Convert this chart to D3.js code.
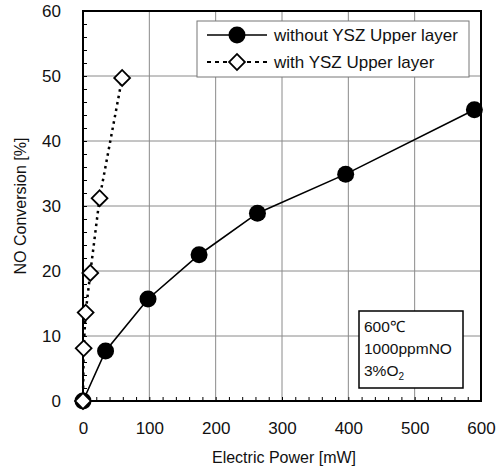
<!DOCTYPE html>
<html>
<head>
<meta charset="utf-8">
<script src="https://cdn.jsdelivr.net/npm/d3@7"></script>
<style>
  body { margin: 0; background: #fff; }
  text { font-family: "Liberation Sans", Arial, sans-serif; fill: #111; }
</style>
</head>
<body>
<div id="chart"></div>
<script>
// data
var powerWithout = [0, 34, 98, 175, 263, 396, 590];
var convWithout  = [0, 7.7, 15.7, 22.5, 28.9, 34.9, 44.8];
var powerWith = [0, 1, 4, 11, 25, 59];
var convWith  = [0, 8.1, 13.6, 19.7, 31.2, 49.7];
var xTicks = [0, 100, 200, 300, 400, 500, 600];
var yTicks = [0, 10, 20, 30, 40, 50, 60];
var seriesNames = ["without YSZ Upper layer", "with YSZ Upper layer"];
var noteLines = ["600\u2103", "1000ppmNO", "3%O2"];

var width = 500, height = 470;
var margin = {top: 11, right: 19, bottom: 69, left: 83};

var svg = d3.select("#chart").append("svg")
  .attr("width", width)
  .attr("height", height);

var x = d3.scaleLinear().domain([0, 600]).range([margin.left, width - margin.right]);
var y = d3.scaleLinear().domain([0, 60]).range([height - margin.bottom, margin.top]);

// grid
svg.append("g").selectAll("line").data(xTicks.slice(1, -1)).enter().append("line")
  .attr("x1", function(d){ return x(d); }).attr("x2", function(d){ return x(d); })
  .attr("y1", y(0)).attr("y2", y(60))
  .attr("stroke", "#8a8a8a").attr("stroke-width", 1);
svg.append("g").selectAll("line").data(yTicks.slice(1, -1)).enter().append("line")
  .attr("y1", function(d){ return y(d); }).attr("y2", function(d){ return y(d); })
  .attr("x1", x(0)).attr("x2", x(600))
  .attr("stroke", "#8a8a8a").attr("stroke-width", 1);

// minor ticks, inside
svg.append("g").attr("transform", "translate(0," + y(0) + ")")
  .call(d3.axisTop(x).tickValues(d3.range(20, 600, 20)).tickSize(4).tickFormat(""))
  .call(function(g){ g.select(".domain").remove(); });
svg.append("g").attr("transform", "translate(" + x(0) + ",0)")
  .call(d3.axisRight(y).tickValues(d3.range(2, 60, 2)).tickSize(4).tickFormat(""))
  .call(function(g){ g.select(".domain").remove(); });

// tick labels
svg.append("g").attr("transform", "translate(0," + y(0) + ")")
  .call(d3.axisBottom(x).tickValues(xTicks).tickSize(0).tickPadding(21))
  .call(function(g){
    g.select(".domain").remove();
    g.selectAll("text").style("font-size", "17px").attr("fill", "#111");
  });
svg.append("g").attr("transform", "translate(" + x(0) + ",0)")
  .call(d3.axisLeft(y).tickValues(yTicks).tickSize(0).tickPadding(22))
  .call(function(g){
    g.select(".domain").remove();
    g.selectAll("text").style("font-size", "17px").attr("fill", "#111");
  });

// frame
svg.append("rect")
  .attr("x", x(0)).attr("y", y(60))
  .attr("width", x(600) - x(0)).attr("height", y(0) - y(60))
  .attr("fill", "none").attr("stroke", "#000").attr("stroke-width", 2);

// axis titles
svg.append("text")
  .attr("x", (x(0) + x(600)) / 2 + 2).attr("y", 463)
  .attr("text-anchor", "middle").style("font-size", "16px")
  .text("Electric Power [mW]");
svg.append("text")
  .attr("transform", "translate(26," + ((y(0) + y(60)) / 2) + ") rotate(-90)")
  .attr("text-anchor", "middle").style("font-size", "16px")
  .text("NO Conversion [%]");

var line = d3.line()
  .x(function(d){ return x(d[0]); })
  .y(function(d){ return y(d[1]); });

var dataWithout = d3.zip(powerWithout, convWithout);
var dataWith = d3.zip(powerWith, convWith);

// square diamond: a square turned 45 degrees
var diamond = d3.symbol().type(d3.symbolSquare).size(125);

// dotted series
svg.append("path").datum(dataWith)
  .attr("d", line).attr("fill", "none")
  .attr("stroke", "#000").attr("stroke-width", 2.5).attr("stroke-dasharray", "2.5,4");

// solid series
svg.append("path").datum(dataWithout)
  .attr("d", line).attr("fill", "none")
  .attr("stroke", "#000").attr("stroke-width", 1.6);

svg.append("g").selectAll("circle").data(dataWithout).enter().append("circle")
  .attr("cx", function(d){ return x(d[0]); })
  .attr("cy", function(d){ return y(d[1]); })
  .attr("r", 8.5).attr("fill", "#000");

svg.append("g").selectAll("path").data(dataWith).enter().append("path")
  .attr("d", diamond)
  .attr("transform", function(d){ return "translate(" + x(d[0]) + "," + y(d[1]) + ") rotate(45)"; })
  .attr("fill", "#fff").attr("stroke", "#000").attr("stroke-width", 1.8);

// legend
var legend = svg.append("g");
legend.append("rect")
  .attr("x", 197).attr("y", 21).attr("width", 272).attr("height", 56)
  .attr("fill", "#fff").attr("stroke", "#777").attr("stroke-width", 1);
legend.append("line").attr("x1", 207).attr("x2", 267).attr("y1", 35).attr("y2", 35)
  .attr("stroke", "#000").attr("stroke-width", 1.6);
legend.append("circle").attr("cx", 237).attr("cy", 35).attr("r", 8.5).attr("fill", "#000");
legend.append("line").attr("x1", 207).attr("x2", 267).attr("y1", 62).attr("y2", 62)
  .attr("stroke", "#000").attr("stroke-width", 2).attr("stroke-dasharray", "4,4");
legend.append("path").attr("d", diamond)
  .attr("transform", "translate(237,62) rotate(45)")
  .attr("fill", "#fff").attr("stroke", "#000").attr("stroke-width", 1.8);
legend.selectAll("text.lg").data(seriesNames).enter().append("text")
  .attr("class", "lg")
  .attr("x", 274).attr("y", function(d, i){ return 41 + i * 27; })
  .style("font-size", "17px")
  .text(function(d){ return d; });

// conditions box
var note = svg.append("g");
note.append("rect")
  .attr("x", 359).attr("y", 311).attr("width", 104).attr("height", 77)
  .attr("fill", "#fff").attr("stroke", "#000").attr("stroke-width", 1.5);
note.selectAll("text").data(noteLines).enter().append("text")
  .attr("x", 364).attr("y", function(d, i){ return 332 + i * 22; })
  .style("font-size", "15.5px")
  .each(function(d){
    var t = d3.select(this);
    if (d === "3%O2") {
      t.append("tspan").text("3%O");
      t.append("tspan").attr("dy", 4).style("font-size", "10px").text("2");
    } else {
      t.text(d);
    }
  });
</script>
</body>
</html>
